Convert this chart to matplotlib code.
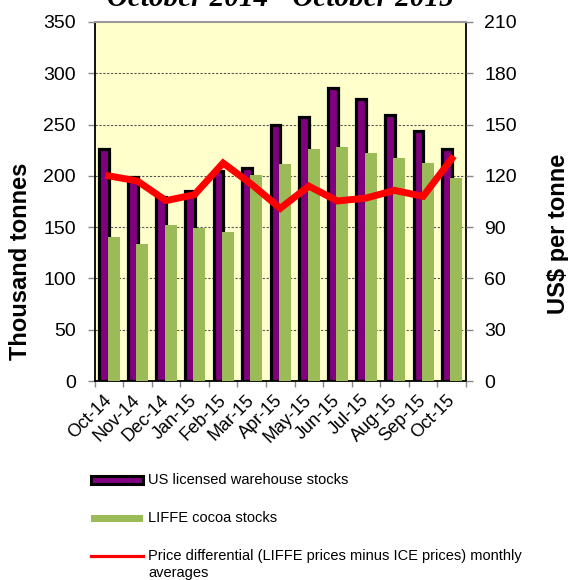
import matplotlib
matplotlib.use("Agg")
import matplotlib.pyplot as plt
import numpy as np
from matplotlib.patches import Rectangle
from matplotlib.lines import Line2D

plt.rcParams['font.family'] = ['Liberation Sans', 'DejaVu Sans']

months = ["Oct-14", "Nov-14", "Dec-14", "Jan-15", "Feb-15", "Mar-15", "Apr-15",
          "May-15", "Jun-15", "Jul-15", "Aug-15", "Sep-15", "Oct-15"]
us_stocks = [226, 199, 179, 185, 205, 208, 250, 257, 286, 275, 259, 244, 226]
liffe_stocks = [140, 134, 152, 149, 145, 201, 212, 226, 228, 222, 217, 213, 198]
price_diff = [120, 117, 105.5, 109, 127.5, 115, 101, 114, 105.3, 107, 111.5, 108, 130]

title = "October 2014 - October 2015"
left_ticks = [0, 50, 100, 150, 200, 250, 300, 350]
right_ticks = [0, 30, 60, 90, 120, 150, 180, 210]

fig = plt.figure(figsize=(5.68, 5.80), dpi=100)
ax = fig.add_axes([94.5/568, 1-381/580, (466-94.5)/568, (381-22)/580])
ax.set_facecolor("#FFFFCC")

x = np.arange(len(months))
ax.bar(x - 0.165, us_stocks, width=0.34, color="#800080", edgecolor="black",
       linewidth=2.3, zorder=2)
ax.bar(x + 0.165, liffe_stocks, width=0.42, color="#9BBB59", linewidth=0, zorder=3)

ax.set_xlim(-0.5, len(months) - 0.5)
ax.set_ylim(0, 350)
ax.set_yticks(left_ticks)
for v in left_ticks[1:-1]:
    ax.axhline(v, color="#555555", linestyle=(0, (2, 1.5)), linewidth=0.8, zorder=1)

ax.set_xticks(x)
ax.set_xticklabels(months, rotation=45, rotation_mode="anchor", ha="right", va="center")
ax.set_xticks(np.arange(-0.5, len(months)), minor=True)
ax.tick_params(axis="x", which="major", length=0, pad=12, labelsize=13)
ax.tick_params(axis="x", which="minor", length=4.5, color="#888888", width=1)
ax.tick_params(axis="y", length=5, color="#888888", width=1, pad=8.5, labelsize=14)

for s in ["left", "right", "bottom"]:
    ax.spines[s].set_color("black")
    ax.spines[s].set_linewidth(1.3)
ax.spines["top"].set_color("#999999")
ax.spines["top"].set_linewidth(1.5)

ax2 = ax.twinx()
ax2.plot(x, price_diff, color="#FF0000", linewidth=5, solid_joinstyle="miter", zorder=5)
ax2.set_ylim(0, 210)
ax2.set_yticks(right_ticks)
ax2.tick_params(axis="y", length=5, color="#888888", width=1, pad=8, labelsize=14)
for s in ["left", "right", "bottom", "top"]:
    ax2.spines[s].set_visible(False)

fig.text(0.494, 1 - 6/580, title, ha="center", va="baseline", fontsize=21,
         family="Liberation Serif", fontweight="bold", style="italic")
fig.text(21/568, 1 - 261/580, "Thousand tonnes", rotation=90, ha="center", va="center",
         fontsize=17, fontweight="bold")
fig.text(558/568, 1 - 234/580, "US$ per tonne", rotation=90, ha="center", va="center",
         fontsize=17, fontweight="bold")

# legend
lx0, lw = 91/568, 52/568
fig.add_artist(Rectangle((lx0, 1-484/580), lw, 8/580, transform=fig.transFigure,
                         facecolor="#800080", edgecolor="black", linewidth=2.2))
fig.add_artist(Rectangle((lx0, 1-522/580), lw, 7/580, transform=fig.transFigure,
                         facecolor="#9BBB59", edgecolor="none"))
fig.add_artist(Line2D([lx0, lx0+lw], [1-556/580, 1-556/580], transform=fig.transFigure,
                      color="#FF0000", linewidth=2.3))
tx = 148/568
fig.text(tx, 1-480/580, "US licensed warehouse stocks", va="center", fontsize=10.5)
fig.text(tx, 1-518/580, "LIFFE cocoa stocks", va="center", fontsize=10.5)
fig.text(tx, 1-556/580, "Price differential (LIFFE prices minus ICE prices) monthly",
         va="center", fontsize=10.5)
fig.text(tx, 1-573/580, "averages", va="center", fontsize=10.5)

fig.savefig("out.png", dpi=100)
